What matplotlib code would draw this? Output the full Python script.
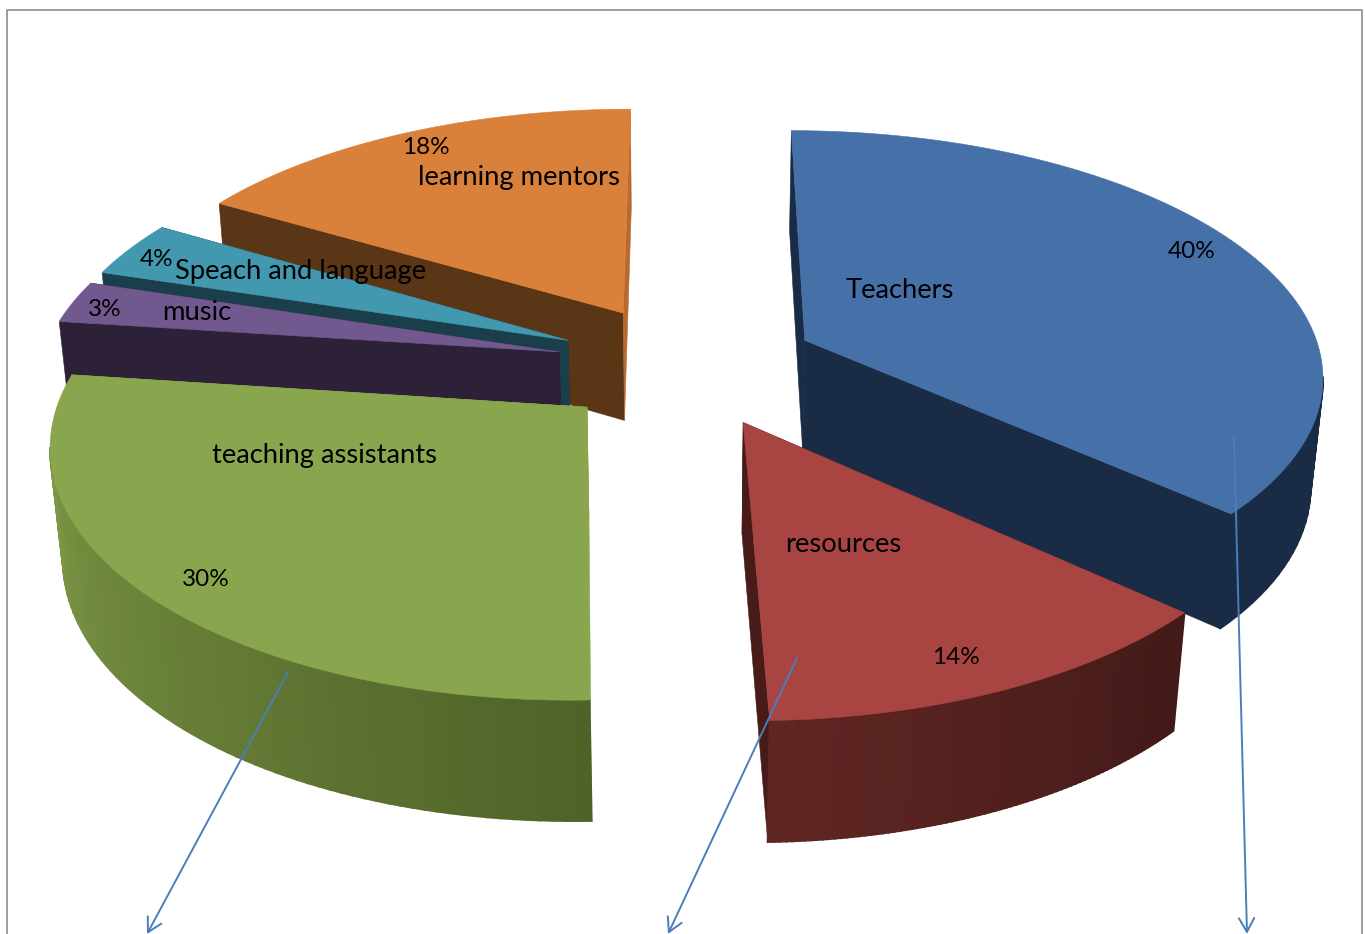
import numpy as np
import matplotlib
matplotlib.use('Agg')
import matplotlib.pyplot as plt
from matplotlib.colors import to_rgb
from matplotlib.patches import Polygon

# Budget shares as printed on the chart (they add up to 109, the slices are normalised)
labels = ['Teachers', 'resources', 'teaching assistants', 'music', 'Speach and language', 'learning mentors']
shares = [40, 14, 30, 3, 4, 18]

top_colors = ['#4571A8', '#A84442', '#89A54E', '#71588F', '#4198AF', '#D9803A']
start_wall = ['#1A2C45', '#481B19', '#89A54E', '#2C2137', '#1B3F4A', '#5A3516']
end_wall = ['#1A2C45', '#481B19', '#89A54E', '#2C2137', '#1B3F4A', '#B8692E']
rim_start = ['#1A2C45', '#421A18', '#4F6228', '#2C2137', '#1B3F4A', '#5A3516']
rim_end = ['#1A2C45', '#602623', '#86A14B', '#2C2137', '#1B3F4A', '#5A3516']

label_pos = [(900, 290), (843, 544), (325, 455), (197, 312), (301, 271), (519, 177)]
pct_pos = [(1192, 251), (956, 657), (206, 579), (105, 309), (157, 259), (426, 147)]
draw_order = [5, 4, 3, 2, 0, 1]

arrow_from = [(1234, 438), (797, 658), (288, 672)]
arrow_to = [(1247, 934), (668, 934), (147, 934)]

# projection fitted to the picture
CX, CY = 686.5, 365
RX, RY = 518.5, 243
PERSP = 0.13
EXPLODE = 0.253
DEPTH = 111.5


def project(x, y, bottom=False):
    scale = 1 / (1 + PERSP * y + (0.02 if bottom else 0))
    drop = DEPTH if bottom else 0
    return np.column_stack([CX + RX * x * scale, CY + (-RY * y + drop) * scale])


def mix(c1, c2, t):
    c1, c2 = np.array(to_rgb(c1)), np.array(to_rgb(c2))
    return c1 + (c2 - c1) * t


def draw_slice(ax, i, start, end):
    mid = (start + end) / 2
    ox, oy = EXPLODE * np.sin(mid), EXPLODE * np.cos(mid)
    th = np.linspace(start, end, 80)
    x = ox + np.sin(th)
    y = oy + np.cos(th)
    top = project(x, y)
    low = project(x, y, bottom=True)
    apex = project(np.array([ox]), np.array([oy]))
    apex_low = project(np.array([ox]), np.array([oy]), bottom=True)

    ax.add_patch(Polygon([apex[0], top[0], low[0], apex_low[0]], fc=start_wall[i], ec=start_wall[i], lw=0.4))
    ax.add_patch(Polygon([apex[0], top[-1], low[-1], apex_low[0]], fc=end_wall[i], ec=end_wall[i], lw=0.4))

    # only the strips of the rim that face the camera
    facing = -x * np.sin(th) + (-1 / PERSP - y) * np.cos(th) > 0
    for k in range(len(th) - 1):
        if facing[k] or facing[k + 1]:
            c = mix(rim_start[i], rim_end[i], k / (len(th) - 2))
            ax.add_patch(Polygon([top[k], top[k + 1], low[k + 1], low[k]], fc=c, ec=c, lw=1.5))

    ax.add_patch(Polygon(np.vstack([apex, top]), fc=top_colors[i], ec=top_colors[i], lw=0.4))


def main():
    fig = plt.figure(figsize=(13.65, 9.34), dpi=100)
    ax = fig.add_axes([0, 0, 1, 1])
    ax.set_xlim(0, 1365)
    ax.set_ylim(934, 0)
    ax.axis('off')

    # frame of the original picture, open at the bottom
    ax.plot([7, 7, 1362, 1362], [934, 9.5, 9.5, 934], color='#8C8C8C', lw=1.2)

    edges = np.cumsum([0] + shares) / sum(shares) * 2 * np.pi
    for i in draw_order:
        draw_slice(ax, i, edges[i], edges[i + 1])

    for i in range(len(labels)):
        ax.text(*label_pos[i], labels[i], fontsize=19.7, family='Lato', ha='center', va='center', color='black')
        ax.text(*pct_pos[i], f'{shares[i]}%', fontsize=17.5, family='Lato', ha='center', va='center', color='black')

    for a, b in zip(arrow_from, arrow_to):
        ax.annotate('', xy=b, xytext=a, annotation_clip=False,
                    arrowprops=dict(arrowstyle='->,head_length=1.0,head_width=0.55', color='#4A7EBB', lw=1.4,
                                    shrinkA=0, shrinkB=0))

    fig.savefig('out.png', dpi=100, facecolor='white')


if __name__ == '__main__':
    main()
